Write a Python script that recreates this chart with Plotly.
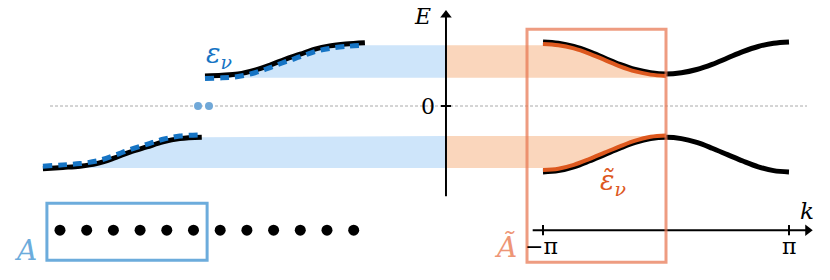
import numpy as np
import plotly.graph_objects as go

# ---------------- data ----------------
# Left panel: spectrum of the finite chain (x = position in chain-site units)
left_lower_x = [0.36, 1.11, 1.75, 2.37, 2.99, 3.62, 4.25, 4.86, 5.49, 6.31]
left_lower_E = [-0.98, -0.96, -0.94, -0.90, -0.82, -0.72, -0.64, -0.56, -0.51, -0.49]
left_lower_dash_E = [-0.94, -0.92, -0.90, -0.86, -0.78, -0.68, -0.60, -0.52, -0.47, -0.45]

left_upper_x = [6.43, 7.07, 7.67, 8.30, 8.87, 9.43, 10.0, 10.55, 11.1, 11.7, 12.42]
left_upper_E = [0.47, 0.48, 0.50, 0.56, 0.64, 0.73, 0.81, 0.89, 0.94, 0.97, 0.99]
left_upper_dash_E = [0.43, 0.44, 0.46, 0.52, 0.60, 0.69, 0.77, 0.85, 0.90, 0.93, 0.95]

zero_mode_x = [6.17, 6.58]
zero_mode_E = [0.0, 0.0]

site_index = list(range(1, 13))

# Right panel: bulk bands E(k), k in units of pi
k_over_pi = [-1, -0.875, -0.75, -0.625, -0.5, -0.375, -0.25, -0.125, 0,
             0.125, 0.25, 0.375, 0.5, 0.625, 0.75, 0.875, 1]
upper_E = [1.00, 0.98, 0.93, 0.85, 0.75, 0.65, 0.57, 0.52, 0.50,
           0.52, 0.57, 0.65, 0.75, 0.85, 0.93, 0.98, 1.00]
lower_E = [-1.03, -1.01, -0.95, -0.86, -0.76, -0.66, -0.57, -0.51, -0.49,
           -0.51, -0.57, -0.66, -0.76, -0.86, -0.95, -1.01, -1.03]
# reduced-zone (orange) spectrum, k from -pi to 0
sub_k_over_pi = [-1, -0.875, -0.75, -0.625, -0.5, -0.375, -0.25, -0.125, 0]
sub_upper_E = [0.97, 0.95, 0.90, 0.82, 0.72, 0.62, 0.54, 0.49, 0.47]
sub_lower_E = [-1.00, -0.98, -0.92, -0.83, -0.73, -0.63, -0.54, -0.48, -0.46]

upper_band = [0.44, 0.95]
lower_band = [-0.97, -0.47]

k_tick_vals = [-np.pi, np.pi]
k_tick_text = ["\u2212\u03c0", "\u03c0"]
E_tick_vals = [0]
E_tick_text = ["0"]

# ---------------- layout constants ----------------
W, H = 830, 280
LEFT_RANGE = [-1.247, 29.84]
K_RANGE = [-17.011, 4.189]
E_RANGE = [-2.71875, 1.65625]
E_AXIS_K = -5.62
E_AXIS_SPAN = [-1.41, 1.42]
K_AXIS_E = -1.94
K_AXIS_SPAN = [-3.405, 3.62]
CHAIN_E = -1.94
BOX_A = dict(x=[0.51, 6.51], E=[-2.41, -1.52])
BOX_AT = dict(k=[-3.55, 0.0], E=[-2.44, 1.20])

LIGHT_BLUE = "rgb(206,229,250)"
LIGHT_ORANGE = "rgb(250,214,188)"
DASH_BLUE = "rgb(22,116,196)"
BOX_BLUE = "rgb(108,172,220)"
DARK_ORANGE = "rgb(221,88,30)"
BOX_ORANGE = "rgba(232,118,80,0.72)"
LABEL_ORANGE = "rgb(238,150,118)"
SERIF = "DejaVu Serif"


def k_to_left(k):
    px = (k - K_RANGE[0]) / (K_RANGE[1] - K_RANGE[0]) * W
    return LEFT_RANGE[0] + px / W * (LEFT_RANGE[1] - LEFT_RANGE[0])


k = [v * np.pi for v in k_over_pi]
sub_k = [v * np.pi for v in sub_k_over_pi]
e_axis_left = k_to_left(E_AXIS_K)

fig = go.Figure()

# ---- blue bands (left) ----
up_clip = [min(e, upper_band[1]) for e in left_upper_E]
fig.add_trace(go.Scatter(
    x=left_upper_x + [e_axis_left, e_axis_left, left_upper_x[0]],
    y=up_clip + [upper_band[1], upper_band[0], upper_band[0]],
    fill="toself", fillcolor=LIGHT_BLUE, line=dict(width=0), mode="lines",
    hoverinfo="skip", xaxis="x", yaxis="y"))
lo_clip = [min(max(e, lower_band[0]), lower_band[1]) for e in left_lower_E]
fig.add_trace(go.Scatter(
    x=left_lower_x + [e_axis_left, e_axis_left, left_lower_x[0]],
    y=lo_clip + [lower_band[1], lower_band[0], lower_band[0]],
    fill="toself", fillcolor=LIGHT_BLUE, line=dict(width=0), mode="lines",
    hoverinfo="skip", xaxis="x", yaxis="y"))

# ---- orange bands (right) ----
su = [min(e, upper_band[1]) for e in upper_E[:9]]
fig.add_trace(go.Scatter(
    x=[E_AXIS_K] + sub_k + [0, E_AXIS_K],
    y=[upper_band[1]] + su + [upper_band[0], upper_band[0]],
    fill="toself", fillcolor=LIGHT_ORANGE, line=dict(width=0), mode="lines",
    hoverinfo="skip", xaxis="x2", yaxis="y"))
sl = [max(e, lower_band[0]) for e in lower_E[:9]]
fig.add_trace(go.Scatter(
    x=[E_AXIS_K] + sub_k + [0, E_AXIS_K],
    y=[lower_band[0]] + sl + [lower_band[1], lower_band[1]],
    fill="toself", fillcolor=LIGHT_ORANGE, line=dict(width=0), mode="lines",
    hoverinfo="skip", xaxis="x2", yaxis="y"))

# ---- left curves ----
for xs, es, ds in [(left_lower_x, left_lower_E, left_lower_dash_E),
                   (left_upper_x, left_upper_E, left_upper_dash_E)]:
    fig.add_trace(go.Scatter(x=xs, y=es, mode="lines",
                             line=dict(color="black", width=5, shape="spline"),
                             hoverinfo="skip", xaxis="x", yaxis="y"))
    fig.add_trace(go.Scatter(x=xs, y=ds, mode="lines",
                             line=dict(color=DASH_BLUE, width=5, shape="spline",
                                       dash="9px,6px"),
                             hoverinfo="skip", xaxis="x", yaxis="y"))

fig.add_trace(go.Scatter(x=zero_mode_x, y=zero_mode_E, mode="markers",
                         marker=dict(color="rgb(112,168,216)", size=8),
                         hoverinfo="skip", xaxis="x", yaxis="y"))

# chain sites
fig.add_trace(go.Scatter(x=site_index, y=[CHAIN_E] * len(site_index), mode="markers",
                         marker=dict(color="black", size=11),
                         hoverinfo="skip", xaxis="x", yaxis="y"))

# ---- right curves ----
for es in [upper_E, lower_E]:
    fig.add_trace(go.Scatter(x=k, y=es, mode="lines",
                             line=dict(color="black", width=5, shape="spline"),
                             hoverinfo="skip", xaxis="x2", yaxis="y"))
for es in [sub_upper_E, sub_lower_E]:
    fig.add_trace(go.Scatter(x=sub_k, y=es, mode="lines",
                             line=dict(color=DARK_ORANGE, width=4, shape="spline"),
                             hoverinfo="skip", xaxis="x2", yaxis="y"))

# ---- axes (lines + arrowheads) ----
fig.add_trace(go.Scatter(x=[E_AXIS_K, E_AXIS_K], y=E_AXIS_SPAN, mode="lines",
                         line=dict(color="black", width=2),
                         hoverinfo="skip", xaxis="x2", yaxis="y"))
fig.add_trace(go.Scatter(x=[E_AXIS_K], y=[E_AXIS_SPAN[1]], mode="markers",
                         marker=dict(symbol="triangle-up", size=10, color="black"),
                         hoverinfo="skip", xaxis="x2", yaxis="y"))
fig.add_trace(go.Scatter(x=K_AXIS_SPAN, y=[K_AXIS_E, K_AXIS_E], mode="lines",
                         line=dict(color="black", width=2),
                         hoverinfo="skip", xaxis="x2", yaxis="y"))
fig.add_trace(go.Scatter(x=[K_AXIS_SPAN[1]], y=[K_AXIS_E], mode="markers",
                         marker=dict(symbol="triangle-right", size=10, color="black"),
                         hoverinfo="skip", xaxis="x2", yaxis="y"))

shapes = [
    # zero energy dotted line
    dict(type="line", xref="paper", yref="y", x0=50 / W, x1=807 / W, y0=0, y1=0,
         line=dict(color="rgb(170,170,170)", width=1, dash="3px,2px"), layer="below"),
    # blue box A
    dict(type="rect", xref="x", yref="y", x0=BOX_A["x"][0], x1=BOX_A["x"][1],
         y0=BOX_A["E"][0], y1=BOX_A["E"][1], line=dict(color=BOX_BLUE, width=3)),
    # orange box A-tilde
    dict(type="rect", xref="x2", yref="y", x0=BOX_AT["k"][0], x1=BOX_AT["k"][1],
         y0=BOX_AT["E"][0], y1=BOX_AT["E"][1], line=dict(color=BOX_ORANGE, width=3)),
    # E axis tick at 0
    dict(type="line", xref="x2", yref="y", x0=E_AXIS_K - 0.13, x1=E_AXIS_K + 0.13,
         y0=E_tick_vals[0], y1=E_tick_vals[0], line=dict(color="black", width=2)),
]
for kv in k_tick_vals:
    shapes.append(dict(type="line", xref="x2", yref="y", x0=kv, x1=kv,
                       y0=K_AXIS_E - 0.08, y1=K_AXIS_E + 0.08,
                       line=dict(color="black", width=2)))

annotations = []


def label(text, px, py, size, color="black"):
    annotations.append(dict(x=px / W, y=1 - py / H, xref="paper", yref="paper",
                            text=text, showarrow=False, xanchor="center", yanchor="middle",
                            font=dict(family=SERIF, size=size, color=color)))


label("<i>E</i>", 423, 16, 22)
label(E_tick_text[0], 428, 106, 22)
label("<i>k</i>", 807, 211, 23)
label(k_tick_text[0], 541, 246, 22)
label(k_tick_text[1], 789, 246, 22)
label("<i>A</i>", 25, 250, 28, BOX_BLUE)
label("<i>\u00c3</i>", 505, 247, 28, LABEL_ORANGE)
label("<i>\u03b5</i><sub><i>\u03bd</i></sub>", 219, 56, 27, DASH_BLUE)
label("<i>\u03b5\u0303</i><sub><i>\u03bd</i></sub>", 613, 182, 27, DARK_ORANGE)

fig.update_layout(
    width=W, height=H, margin=dict(l=0, r=0, t=0, b=0),
    paper_bgcolor="white", plot_bgcolor="white", showlegend=False,
    xaxis=dict(range=LEFT_RANGE, visible=False, domain=[0, 1]),
    xaxis2=dict(range=K_RANGE, visible=False, overlaying="x", anchor="y", domain=[0, 1]),
    yaxis=dict(range=E_RANGE, visible=False, domain=[0, 1]),
    shapes=shapes, annotations=annotations,
)

fig.write_html("out.html", config={"displayModeBar": False},
               post_script="document.body.style.margin='0';")
